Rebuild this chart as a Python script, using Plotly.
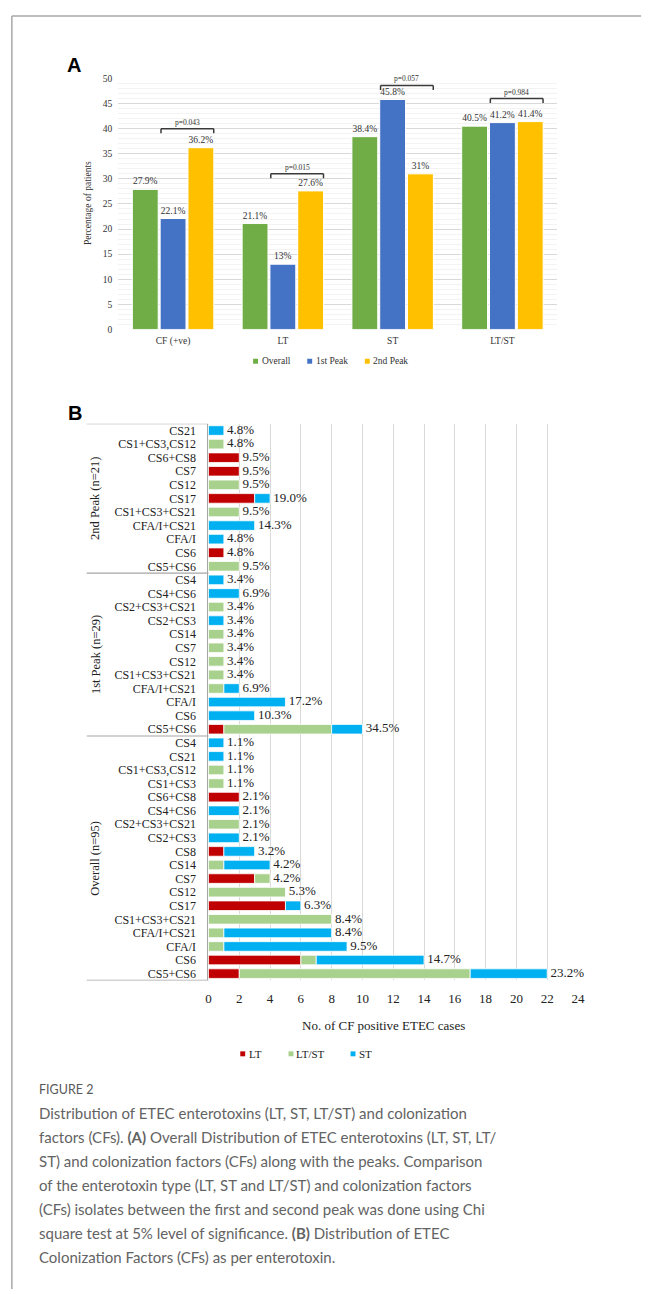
import plotly.graph_objects as go

W, H = 648, 1294

# ---------------- Panel A data ----------------
a_categories = ["CF (+ve)", "LT", "ST", "LT/ST"]
a_series = ["Overall", "1st Peak", "2nd Peak"]
a_overall = [27.9, 21.1, 38.4, 40.5]
a_peak1 = [22.1, 13, 45.8, 41.2]
a_peak2 = [36.2, 27.6, 31, 41.4]
a_labels_overall = ["27.9%", "21.1%", "38.4%", "40.5%"]
a_labels_peak1 = ["22.1%", "13%", "45.8%", "41.2%"]
a_labels_peak2 = ["36.2%", "27.6%", "31%", "41.4%"]
a_pvalues = ["p=0.043", "p=0.015", "p=0.057", "p=0.984"]
a_bracket_y = [40, 31, 48.6, 46]
a_colors = ["#70AD47", "#4472C4", "#FFC000"]

# ---------------- Panel B data (top to bottom within each group) ----------------
b_groups = ["2nd Peak (n=21)", "1st Peak (n=29)", "Overall (n=95)"]
b_toxins = ["LT", "LT/ST", "ST"]
b_colors = ["#C00000", "#A9D18E", "#00B0F0"]

peak2_cf = ["CS21", "CS1+CS3,CS12", "CS6+CS8", "CS7", "CS12", "CS17",
            "CS1+CS3+CS21", "CFA/I+CS21", "CFA/I", "CS6", "CS5+CS6"]
peak2_lt = [0, 0, 2, 2, 0, 3, 0, 0, 0, 1, 0]
peak2_ltst = [0, 1, 0, 0, 2, 0, 2, 0, 0, 0, 2]
peak2_st = [1, 0, 0, 0, 0, 1, 0, 3, 1, 0, 0]
peak2_pct = ["4.8%", "4.8%", "9.5%", "9.5%", "9.5%", "19.0%", "9.5%", "14.3%",
             "4.8%", "4.8%", "9.5%"]

peak1_cf = ["CS4", "CS4+CS6", "CS2+CS3+CS21", "CS2+CS3", "CS14", "CS7", "CS12",
            "CS1+CS3+CS21", "CFA/I+CS21", "CFA/I", "CS6", "CS5+CS6"]
peak1_lt = [0, 0, 0, 0, 0, 0, 0, 0, 0, 0, 0, 1]
peak1_ltst = [0, 0, 1, 0, 1, 1, 1, 1, 1, 0, 0, 7]
peak1_st = [1, 2, 0, 1, 0, 0, 0, 0, 1, 5, 3, 2]
peak1_pct = ["3.4%", "6.9%", "3.4%", "3.4%", "3.4%", "3.4%", "3.4%", "3.4%",
             "6.9%", "17.2%", "10.3%", "34.5%"]

overall_cf = ["CS4", "CS21", "CS1+CS3,CS12", "CS1+CS3", "CS6+CS8", "CS4+CS6",
              "CS2+CS3+CS21", "CS2+CS3", "CS8", "CS14", "CS7", "CS12", "CS17",
              "CS1+CS3+CS21", "CFA/I+CS21", "CFA/I", "CS6", "CS5+CS6"]
overall_lt = [0, 0, 0, 0, 2, 0, 0, 0, 1, 0, 3, 0, 5, 0, 0, 0, 6, 2]
overall_ltst = [0, 0, 1, 1, 0, 0, 2, 0, 0, 1, 1, 5, 0, 8, 1, 1, 1, 15]
overall_st = [1, 1, 0, 0, 0, 2, 0, 2, 2, 3, 0, 0, 1, 0, 7, 8, 7, 5]
overall_pct = ["1.1%", "1.1%", "1.1%", "1.1%", "2.1%", "2.1%", "2.1%", "2.1%",
               "3.2%", "4.2%", "4.2%", "5.3%", "6.3%", "8.4%", "8.4%", "9.5%",
               "14.7%", "23.2%"]

caption_title = "FIGURE 2"
caption_lines = [
    "Distribution of ETEC enterotoxins (LT, ST, LT/ST) and colonization",
    "factors (CFs). <b>(A)</b> Overall Distribution of ETEC enterotoxins (LT, ST, LT/",
    "ST) and colonization factors (CFs) along with the peaks. Comparison",
    "of the enterotoxin type (LT, ST and LT/ST) and colonization factors",
    "(CFs) isolates between the first and second peak was done using Chi",
    "square test at 5% level of significance. <b>(B)</b> Distribution of ETEC",
    "Colonization Factors (CFs) as per enterotoxin.",
]

SERIF = "Liberation Serif, Times New Roman, serif"
TXT = "#333333"
TXT_B = "#222222"


def px(x):
    return x / W


def py(y):
    return 1 - y / H


def note(x, y, text, size, color, family=SERIF, xanchor="center", yanchor="middle",
         xref="paper", yref="paper", **kw):
    return dict(xref=xref, yref=yref, x=x, y=y, text=text, showarrow=False,
                xanchor=xanchor, yanchor=yanchor,
                font=dict(family=family, size=size, color=color), **kw)


fig = go.Figure()

# ---------------- Panel A ----------------
a_values = [a_overall, a_peak1, a_peak2]
a_texts = [a_labels_overall, a_labels_peak1, a_labels_peak2]
for name, vals, txt, col in zip(a_series, a_values, a_texts, a_colors):
    fig.add_trace(go.Bar(
        x=a_categories, y=vals, name=name, text=txt, textposition="outside",
        textfont=dict(family=SERIF, size=9.5, color=TXT),
        marker=dict(color=col, line=dict(color="white", width=1)),
        cliponaxis=False, showlegend=False, xaxis="x", yaxis="y",
    ))

# ---------------- Panel B ----------------
b_cf = peak2_cf + peak1_cf + overall_cf
b_counts = [peak2_lt + peak1_lt + overall_lt,
            peak2_ltst + peak1_ltst + overall_ltst,
            peak2_st + peak1_st + overall_st]
b_pct = peak2_pct + peak1_pct + overall_pct
b_sizes = [len(peak2_cf), len(peak1_cf), len(overall_cf)]
b_idx = list(range(len(b_cf)))

running = [0] * len(b_cf)
for name, counts, col in zip(b_toxins, b_counts, b_colors):
    fig.add_trace(go.Bar(
        x=[c if c else None for c in counts], y=b_idx, base=list(running),
        orientation="h", name=name, offsetgroup="b",
        marker=dict(color=col, line=dict(color="white", width=0.8)),
        showlegend=False, xaxis="x2", yaxis="y2",
    ))
    running = [r + c for r, c in zip(running, counts)]

fig.add_trace(go.Scatter(
    x=running, y=b_idx, mode="text", text=["\u00a0" + t for t in b_pct],
    textposition="middle right",
    textfont=dict(family=SERIF, size=13, color=TXT_B),
    cliponaxis=False, showlegend=False, xaxis="x2", yaxis="y2", hoverinfo="skip",
))

shapes = []
annotations = []

# p-value brackets (panel A)
for i, (p, by) in enumerate(zip(a_pvalues, a_bracket_y)):
    x0, x1 = i - 0.11, i + 0.37
    line = dict(color="#3A3A3A", width=1.5)
    shapes.append(dict(type="line", xref="x", yref="y", x0=x0, x1=x1, y0=by, y1=by, line=line))
    shapes.append(dict(type="line", xref="x", yref="y", x0=x0, x1=x0, y0=by, y1=by - 0.9, line=line))
    shapes.append(dict(type="line", xref="x", yref="y", x0=x1, x1=x1, y0=by, y1=by - 0.9, line=line))
    annotations.append(note(i + 0.13, by, p, 7.5, TXT, xref="x", yref="y", yanchor="bottom"))

# y title panel A
annotations.append(note(px(87), py(200), "Percentage of patients", 9.5, TXT, textangle=-90))

# panel letters
annotations.append(note(px(72), py(60), "<b>A</b>", 20, "black", family="Liberation Sans, Arial"))
annotations.append(note(px(73.5), py(411.5), "<b>B</b>", 20, "black", family="Liberation Sans, Arial"))

# legend A (manual)
leg_a = [(256.5, 261), (311.5, 315.5), (370, 373.5)]
for (mx, tx), name, col in zip(leg_a, a_series, a_colors):
    shapes.append(dict(type="rect", xref="paper", yref="paper", x0=px(mx - 2.5), x1=px(mx + 2.5),
                       y0=py(361.5), y1=py(356.5), fillcolor=col, line=dict(width=0)))
    annotations.append(note(px(tx), py(359), name, 9.5, TXT, xanchor="left"))

# legend B (manual)
leg_b = [(243.5, 247.5), (292.5, 296), (355.5, 360)]
for (mx, tx), name, col in zip(leg_b, b_toxins, b_colors):
    shapes.append(dict(type="rect", xref="paper", yref="paper", x0=px(mx - 2.5), x1=px(mx + 2.5),
                       y0=py(1059.5), y1=py(1054.5), fillcolor=col, line=dict(width=0)))
    annotations.append(note(px(tx), py(1057), name, 11, TXT_B, xanchor="left"))

# panel B group labels and dividers
start = 0
bounds = [-0.5]
for g, n in zip(b_groups, b_sizes):
    centre = start + (n - 1) / 2
    annotations.append(note(px(94), centre, g, 12.5, TXT_B, yref="y2", textangle=-90))
    start += n
    bounds.append(start - 0.5)
for b in bounds:
    shapes.append(dict(type="line", xref="paper", yref="y2", x0=px(85), x1=px(208.7), y0=b, y1=b,
                       line=dict(color="#A6A6A6", width=1.2)))

# panel B x title
annotations.append(note(px(386), py(1028), "No. of CF positive ETEC cases", 13, TXT_B))

# outer frame
shapes.append(dict(type="line", xref="paper", yref="paper", x0=px(9), x1=1, y0=py(11), y1=py(11),
                   line=dict(color="#A8A8A8", width=1.5)))
shapes.append(dict(type="line", xref="paper", yref="paper", x0=px(9), x1=px(9), y0=py(11), y1=0,
                   line=dict(color="#A8A8A8", width=1.5)))

# caption
CAP_FONT = "Lato, Noto Sans, sans-serif"
annotations.append(note(px(35), py(1093), caption_title, 12.5, "#595959", family=CAP_FONT,
                        xanchor="left"))
for k, line in enumerate(caption_lines):
    annotations.append(note(px(35), py(1117 + 24.1 * k), line, 15, "#636363", family=CAP_FONT,
                            xanchor="left"))

fig.update_layout(
    width=W, height=H, margin=dict(l=0, r=0, t=0, b=0),
    paper_bgcolor="white", plot_bgcolor="white",
    barmode="group", bargap=0.24, bargroupgap=0.07,
    shapes=shapes, annotations=annotations,
    xaxis=dict(domain=[px(117), px(563)], anchor="y", type="category", range=[-0.5, 3.5],
               showgrid=False, showline=False, zeroline=False, ticks="",
               tickfont=dict(family=SERIF, size=9.5, color=TXT), ticklabelstandoff=4),
    yaxis=dict(domain=[py(327), py(74)], anchor="x", range=[0, 50], dtick=5,
               showgrid=True, gridcolor="#D9D9D9", gridwidth=1, zeroline=False, showline=False,
               minor=dict(dtick=1, showgrid=True, gridcolor="#F3F3F3", gridwidth=1),
               tickfont=dict(family=SERIF, size=9.5, color=TXT), ticklabelstandoff=5),
    xaxis2=dict(domain=[px(208.7), px(584)], anchor="y2", range=[0, 24], dtick=2,
                showgrid=True, gridcolor="#D9D9D9", gridwidth=1, zeroline=False, showline=False,
                ticks="", tickfont=dict(family=SERIF, size=13, color=TXT_B), ticklabelstandoff=9),
    yaxis2=dict(domain=[py(983), py(422)], anchor="x2", range=[len(b_cf) - 0.5, -0.5],
                tickmode="array", tickvals=b_idx, ticktext=b_cf,
                showgrid=False, zeroline=False, showline=True, linecolor="#A6A6A6", linewidth=1.2,
                ticks="", tickfont=dict(family=SERIF, size=12, color=TXT_B), ticklabelstandoff=9),
)

fig.write_html("out.html", config={"displayModeBar": False},
               post_script="document.body.style.margin='0px';document.body.style.overflow='hidden';")
